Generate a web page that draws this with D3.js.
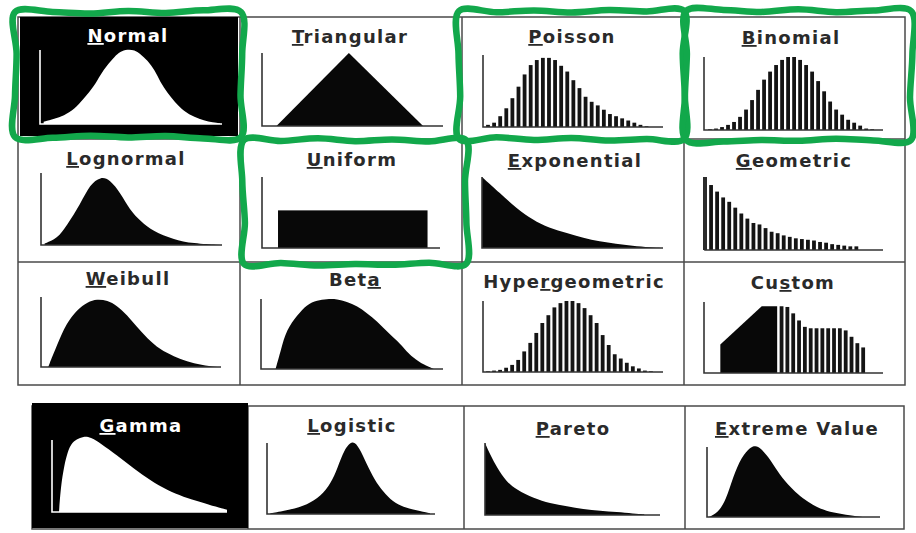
<!DOCTYPE html>
<html><head><meta charset="utf-8">
<script src="https://cdn.jsdelivr.net/npm/d3@7"></script>
<style>
html,body{margin:0;padding:0;background:#fff;}
svg{display:block;}
.title{font-family:"DejaVu Sans",sans-serif;font-weight:bold;font-size:18px;letter-spacing:1.3px;text-anchor:middle;}
</style></head><body>
<svg id="chart" width="916" height="533"></svg>
<script>
// ---- Distribution gallery: shape of each density / probability mass ----
// Continuous shapes: x along the support (0–100), height as % of the axis.
const normalX = [2,8,13,19,24,30,33,37,41,44,48,52,55,59,63,66,70,74,79,85,90,95,99];
const normalY = [3,7,11,20,34,52,66,80,91,98,101,100,95,86,73,57,42,30,17,9,5,2,1];

const triangularX = [8,48,89];
const triangularY = [0,100,0];

const lognormalX = [2,9,14,22,27,33,38,44,49,55,62,73,84,99];
const lognormalY = [2,9,26,58,84,95,91,72,49,33,19,8,2,0];

const uniformX = [9,93];
const uniformY = 53;

const exponentialX = [0,10,19,28,37,47,56,65,74,83,93,100];
const exponentialY = [100,77,56,40,28,21,14,9,6,3,1,0];

const weibullX = [4,9,14,20,26,31,37,42,48,53,59,66,74,81,89,98];
const weibullY = [0,32,62,82,93,97,95,88,74,58,41,25,15,8,3,0];

const betaX = [8,11,14,20,25,31,36,42,47,53,58,64,69,75,80,85,91,95];
const betaY = [0,28,56,77,92,98,100,100,96,90,80,68,54,40,25,13,4,0];

const gammaX = [4,5,7,9,11,14,18,22,28,37,47,56,66,75,85,94,100];
const gammaY = [0,35,65,84,95,101,105,104,95,79,60,44,30,21,14,7,3];

const logisticX = [2,14,24,32,38,42,46,51,55,59,64,69,75,81,89,97];
const logisticY = [1,6,13,25,43,65,91,105,93,72,48,32,17,10,5,1];

const paretoX = [0,3,7,12,18,28,37,47,56,66,75,85,91];
const paretoY = [100,84,65,47,35,23,16,12,8,6,4,2,1];

const extremeX = [1,6,11,15,20,25,28,31,37,42,48,54,60,65,73,83,90];
const extremeY = [0,5,24,57,86,100,102,99,81,60,43,29,19,12,6,2,0];

// Discrete shapes: one value per outcome k = 0, 1, 2, ...
const poissonP = [3,6,15,26,40,56,73,86,93,96,96,93,85,77,65,54,42,35,30,24,18,15,12,9,6,3,1];
const binomialP = [1,2,4,7,11,18,28,41,55,69,80,89,96,100,100,96,89,80,67,53,39,28,21,14,10,6,2,1];
const geometricP = [100,89,80,72,66,58,50,43,37,35,30,25,23,20,18,16,15,14,13,11,10,8,7,6,5,5];
const hypergeometricP = [1,2,3,6,10,17,29,41,55,69,80,91,97,100,100,97,90,80,69,52,38,25,19,13,8,5,2,1];

// Custom: a continuous block followed by discrete outcomes
const customBlockX = [-10.5,-10.5,-3.4,-0.75,-0.75];
const customBlockY = [0,40,94,94,0];
const customP = [94,93,84,74,65,63,63,63,63,63,63,60,51,42,36];

// ---- Names, with the underlined access letter ----
const titles = ["Normal","Triangular","Poisson","Binomial","Lognormal","Uniform","Exponential","Geometric",
                "Weibull","Beta","Hypergeometric","Custom","Gamma","Logistic","Pareto","Extreme Value"];
const accessKey = [0,0,0,0,0,0,0,0,0,3,4,2,0,0,0,0];

// ---- Layout ----
// frame: [axis x, axis top, baseline y, baseline end]
const layout = {
  "Normal":        {frame:[40,50,124,222],  title:[128,42], invert:true},
  "Triangular":    {frame:[262,53,126,443], title:[350,43]},
  "Poisson":       {frame:[483,55,127,663], title:[572,43], kDomain:[-0.82,28.7]},
  "Binomial":      {frame:[704,57,130,883], title:[791,44], kDomain:[-1,28.8]},
  "Lognormal":     {frame:[41,173,245,222], title:[126,165]},
  "Uniform":       {frame:[262,177,248,440],title:[352,166]},
  "Exponential":   {frame:[482,177,248,663],title:[575,167]},
  "Geometric":     {frame:[705,177,250,883],title:[794,167], kDomain:[0,29.4]},
  "Weibull":       {frame:[41,297,367,221], title:[128,285]},
  "Beta":          {frame:[261,299,369,443],title:[355,286]},
  "Hypergeometric":{frame:[483,301,372,663],title:[574,288], kDomain:[-0.83,29]},
  "Custom":        {frame:[704,302,373,883],title:[793,289], kDomain:[-13.3,17.4]},
  "Gamma":         {frame:[52,440,512,227], title:[141,432], invert:true},
  "Logistic":      {frame:[267,443,514,435],title:[352,432]},
  "Pareto":        {frame:[485,443,515,660],title:[573,435]},
  "Extreme Value": {frame:[707,447,517,880],title:[797,435]}
};

const ink = "#080808", rule = "#4a4a4a", green = "#12a84b";
const svg = d3.select("#chart");

// ---- Table rules ----
const grid = svg.append("g").attr("stroke", rule).attr("stroke-width", 1.5).attr("fill", "none");
grid.append("rect").attr("x", 18).attr("y", 17).attr("width", 887).attr("height", 368);
[240, 462, 684].forEach(x => grid.append("line").attr("x1", x).attr("x2", x).attr("y1", 17).attr("y2", 385));
[139, 262].forEach(y => grid.append("line").attr("x1", 18).attr("x2", 905).attr("y1", y).attr("y2", y));
grid.append("rect").attr("x", 32).attr("y", 406).attr("width", 872).attr("height", 123);
[248, 464, 685].forEach(x => grid.append("line").attr("x1", x).attr("x2", x).attr("y1", 406).attr("y2", 529));

// inverted (selected) cells
svg.append("rect").attr("x", 20).attr("y", 17).attr("width", 218).attr("height", 119).attr("fill", "#000");
svg.append("rect").attr("x", 32).attr("y", 403).attr("width", 216).attr("height", 125).attr("fill", "#000");

// ---- Shapes ----
function scales(name, xDomain) {
  const [ax, top, base, right] = layout[name].frame;
  return {
    x: d3.scaleLinear().domain(xDomain).range([ax, right]),
    y: d3.scaleLinear().domain([0, 100]).range([base, top])
  };
}

function drawAxes(g, name) {
  const [ax, top, base, right] = layout[name].frame;
  const c = layout[name].invert ? "#fff" : "#333";
  g.append("path").attr("d", d3.line()([[ax, top], [ax, base], [right, base]]))
    .attr("fill", "none").attr("stroke", c).attr("stroke-width", 1.6);
}

function drawArea(name, xs, ys, curve) {
  const g = svg.append("g");
  const s = scales(name, [0, 100]);
  const pts = xs.map((d, i) => [d, ys[i]]);
  const area = d3.area().x(d => s.x(d[0])).y0(s.y(0)).y1(d => s.y(d[1])).curve(curve || d3.curveMonotoneX);
  g.append("path").attr("d", area(pts)).attr("fill", layout[name].invert ? "#fff" : ink);
  drawAxes(g, name);
}

function drawBars(name, values, g) {
  g = g || svg.append("g");
  const s = scales(name, layout[name].kDomain);
  g.selectAll("rect.bar").data(values).join("rect").attr("class", "bar")
    .attr("x", (d, i) => s.x(i) - 1.9).attr("width", 3.8)
    .attr("y", d => s.y(d)).attr("height", d => s.y(0) - s.y(d))
    .attr("fill", "#141414");
  drawAxes(g, name);
  return g;
}

drawArea("Normal", normalX, normalY, d3.curveBasis);
drawArea("Triangular", triangularX, triangularY, d3.curveLinear);
drawBars("Poisson", poissonP);
drawBars("Binomial", binomialP);
drawArea("Lognormal", lognormalX, lognormalY, d3.curveBasis);
{
  const g = svg.append("g");
  const s = scales("Uniform", [0, 100]);
  g.append("rect").attr("x", s.x(uniformX[0])).attr("width", s.x(uniformX[1]) - s.x(uniformX[0]))
    .attr("y", s.y(uniformY)).attr("height", s.y(0) - s.y(uniformY)).attr("fill", ink);
  drawAxes(g, "Uniform");
}
drawArea("Exponential", exponentialX, exponentialY, d3.curveBasis);
drawBars("Geometric", geometricP);
drawArea("Weibull", weibullX, weibullY, d3.curveBasis);
drawArea("Beta", betaX, betaY, d3.curveBasis);
drawBars("Hypergeometric", hypergeometricP);
{
  const g = svg.append("g");
  const s = scales("Custom", layout["Custom"].kDomain);
  g.append("path").attr("d", d3.line().x((d, i) => s.x(d)).y((d, i) => s.y(customBlockY[i]))(customBlockX))
    .attr("fill", ink);
  drawBars("Custom", customP, g);
}
drawArea("Gamma", gammaX, gammaY, d3.curveBasis);
drawArea("Logistic", logisticX, logisticY, d3.curveBasis);
drawArea("Pareto", paretoX, paretoY, d3.curveBasis);
drawArea("Extreme Value", extremeX, extremeY, d3.curveBasis);

// ---- Titles ----
titles.forEach((t, i) => {
  const L = layout[t];
  const k = accessKey[i];
  const txt = svg.append("text").attr("class", "title")
    .attr("x", L.title[0]).attr("y", L.title[1])
    .attr("fill", L.invert ? "#fff" : "#2a2a2a");
  if (k > 0) txt.append("tspan").text(t.slice(0, k));
  txt.append("tspan").style("text-decoration", "underline").text(t[k]);
  txt.append("tspan").text(t.slice(k + 1));
});

// ---- Hand-drawn green highlight boxes ----
const highlights = [
  {box:[15, 12, 241, 137], phase:0},
  {box:[244, 140, 466, 264], phase:3},
  {box:[459, 11, 684, 139], phase:5},
  {box:[686, 11, 911, 140], phase:2}
];
const wobble = [0, 1.6, -1.1, 0.9, -1.7, 1.2, -0.5, 1.4, -1.0, 0.4, -1.3, 0.8];
function roughBox(b, phase) {
  const [x0, y0, x1, y1] = b, pts = [];
  let n = phase;
  const side = (ax, ay, bx, by, nx, ny) => {
    const len = Math.hypot(bx - ax, by - ay), steps = Math.max(2, Math.round(len / 38));
    for (let i = 0; i < steps; i++) {
      const t = i / steps, w = i === 0 ? 0 : wobble[n++ % wobble.length];
      pts.push([ax + (bx - ax) * t + nx * w, ay + (by - ay) * t + ny * w]);
    }
  };
  side(x0, y0, x1, y0, 0, 1);
  side(x1, y0, x1, y1, 1, 0);
  side(x1, y1, x0, y1, 0, 1);
  side(x0, y1, x0, y0, 1, 0);
  return d3.line().curve(d3.curveCatmullRomClosed.alpha(0.5))(pts);
}
svg.append("g").selectAll("path").data(highlights).join("path")
  .attr("d", d => roughBox(d.box, d.phase))
  .attr("fill", "none").attr("stroke", green).attr("stroke-width", 6.5)
  .attr("stroke-linejoin", "round").attr("stroke-linecap", "round");
</script>
</body></html>
